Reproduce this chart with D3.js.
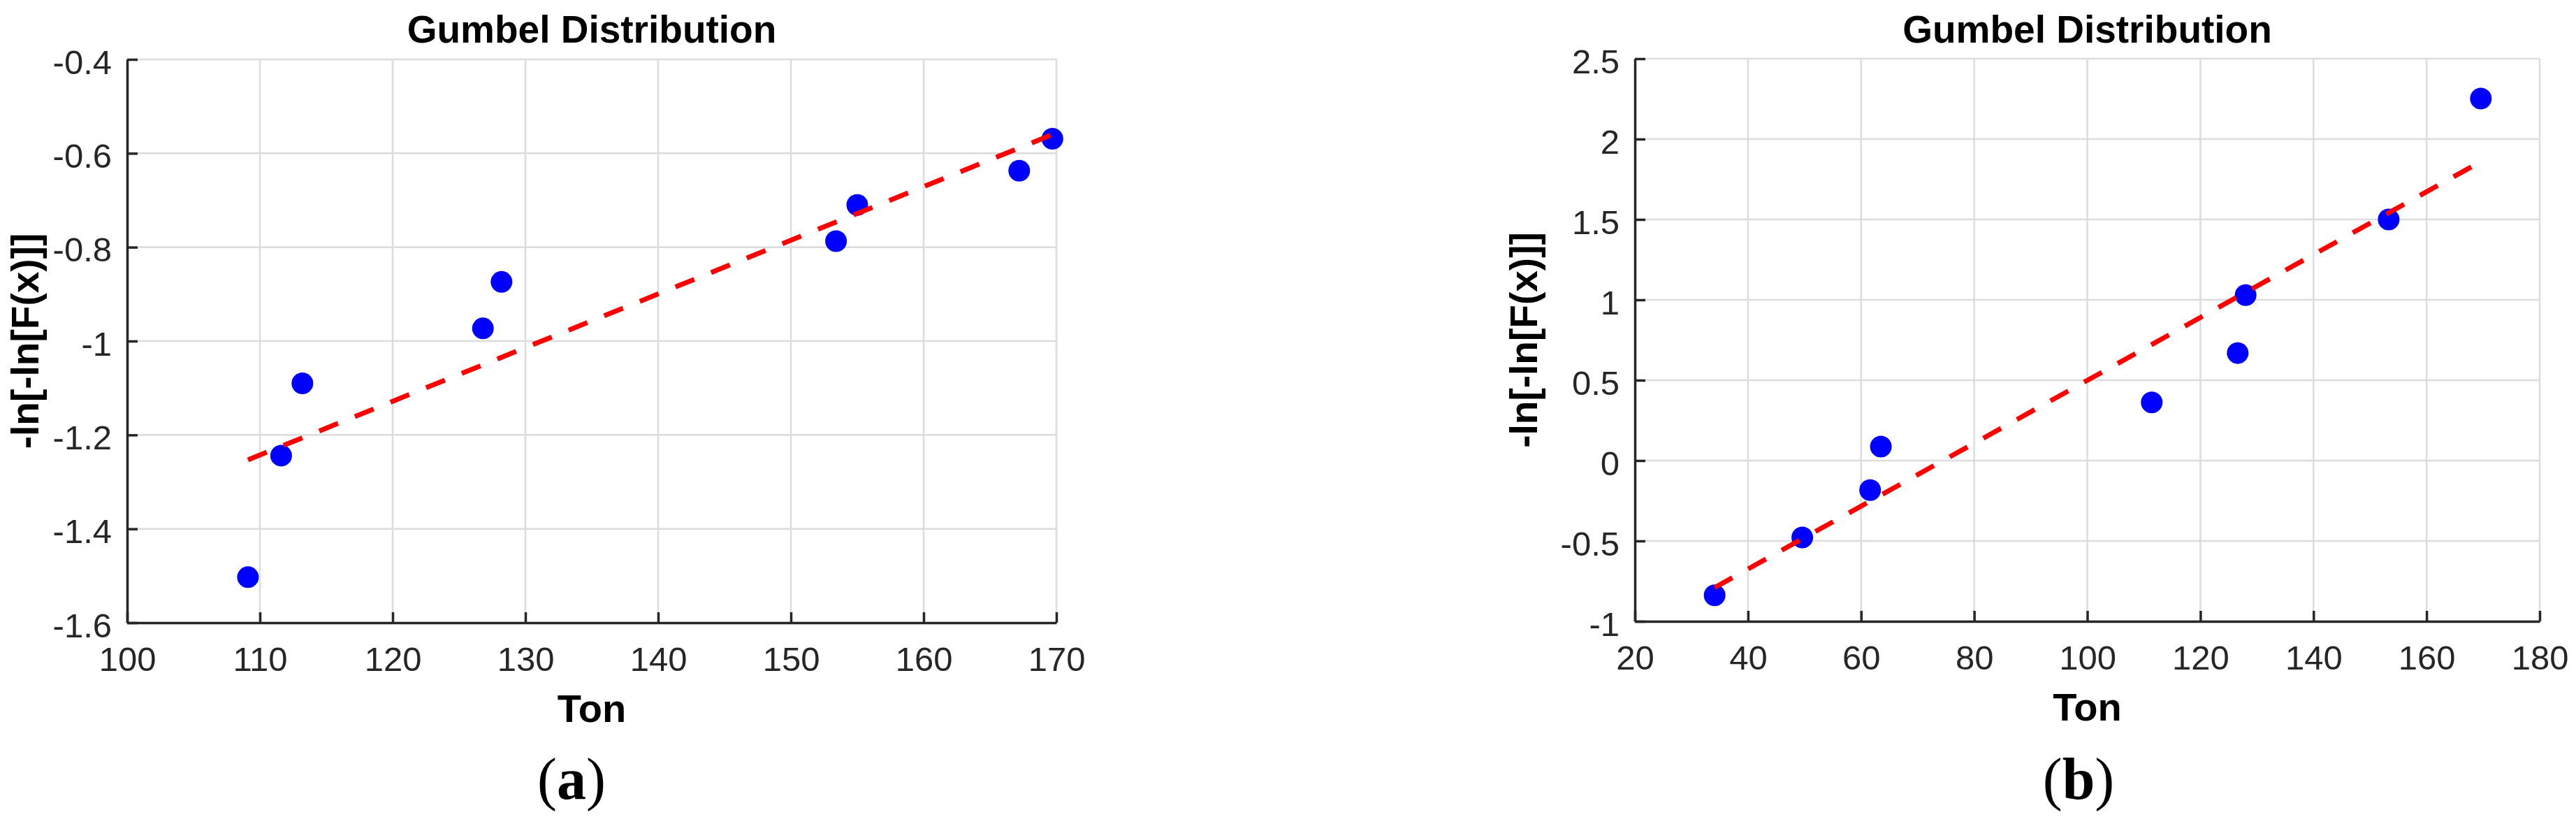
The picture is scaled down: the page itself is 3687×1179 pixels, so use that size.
<!DOCTYPE html>
<html>
<head>
<meta charset="utf-8">
<script src="https://cdn.jsdelivr.net/npm/d3@7"></script>
<style>
  html, body { margin: 0; padding: 0; background: #ffffff; }
  svg { display: block; }
</style>
</head>
<body>
<svg id="chart" width="3687" height="1179"></svg>
<script>
// ---------- DATA ----------
// Panel (a)
const tonA  = [109.1, 111.6, 113.2, 126.8, 128.2, 153.4, 155.0, 167.2, 169.7];
const gumA  = [-1.503, -1.244, -1.090, -0.973, -0.874, -0.787, -0.710, -0.637, -0.569];
const fitA  = [[109.1, -1.253], [169.7, -0.560]];
const xTicksA = [100, 110, 120, 130, 140, 150, 160, 170];
const yTicksA = [-1.6, -1.4, -1.2, -1, -0.8, -0.6, -0.4];

// Panel (b)
const tonB  = [34.1, 49.6, 61.6, 63.5, 111.4, 126.6, 128.0, 153.3, 169.6];
const gumB  = [-0.838, -0.478, -0.184, 0.087, 0.362, 0.669, 1.029, 1.500, 2.252];
const fitB  = [[34.1, -0.790], [169.6, 1.860]];
const xTicksB = [20, 40, 60, 80, 100, 120, 140, 160, 180];
const yTicksB = [-1, -0.5, 0, 0.5, 1, 1.5, 2, 2.5];

const titleText = "Gumbel Distribution";
const xLabelText = "Ton";
const yLabelText = "-ln[-ln[F(x)]]";
const panelLabels = ["a", "b"];

// ---------- DRAW ----------
const svg = d3.select("#chart");
const fmt = d => String(+(+d).toFixed(2));

function panel(cfg) {
  const g = svg.append("g");
  const x = d3.scaleLinear().domain(cfg.xDomain).range([cfg.left, cfg.right]);
  const y = d3.scaleLinear().domain(cfg.yDomain).range([cfg.bottom, cfg.top]);

  // grid
  g.append("g").selectAll("line").data(cfg.xTicks).join("line")
    .attr("x1", d => x(d)).attr("x2", d => x(d))
    .attr("y1", cfg.top).attr("y2", cfg.bottom)
    .attr("stroke", "#dcdcdc").attr("stroke-width", 2.5);
  g.append("g").selectAll("line").data(cfg.yTicks).join("line")
    .attr("x1", cfg.left).attr("x2", cfg.right)
    .attr("y1", d => y(d)).attr("y2", d => y(d))
    .attr("stroke", "#dcdcdc").attr("stroke-width", 2.5);

  // axes
  const xAxis = d3.axisBottom(x).tickValues(cfg.xTicks).tickFormat(fmt)
    .tickSizeInner(-15).tickSizeOuter(0).tickPadding(34);
  const yAxis = d3.axisLeft(y).tickValues(cfg.yTicks).tickFormat(fmt)
    .tickSizeInner(-15).tickSizeOuter(0).tickPadding(22);

  const gx = g.append("g").attr("transform", `translate(0,${cfg.bottom})`).call(xAxis);
  const gy = g.append("g").attr("transform", `translate(${cfg.left},0)`).call(yAxis);
  [gx, gy].forEach(a => {
    a.selectAll("path.domain").attr("stroke", "#262626").attr("stroke-width", 3.5);
    a.selectAll(".tick line").attr("stroke", "#262626").attr("stroke-width", 3.5);
    a.selectAll(".tick text")
      .attr("fill", "#262626")
      .style("font-family", "'Liberation Sans', Arial, sans-serif")
      .style("font-size", "49px");
  });
  gy.selectAll(".tick text").attr("dy", "0.41em");

  // points
  g.append("g").selectAll("circle").data(cfg.xs.map((v, i) => [v, cfg.ys[i]])).join("circle")
    .attr("cx", d => x(d[0])).attr("cy", d => y(d[1])).attr("r", 15.5)
    .attr("fill", "#0000ff");

  // fit line
  g.append("path").datum(cfg.fit)
    .attr("d", d3.line().x(d => x(d[0])).y(d => y(d[1])))
    .attr("fill", "none").attr("stroke", "#ff0000").attr("stroke-width", 7)
    .attr("stroke-dasharray", "29,26");

  const cx = (cfg.left + cfg.right) / 2;
  const cy = (cfg.top + cfg.bottom) / 2;

  // title
  g.append("text").attr("x", cx).attr("y", 61).attr("text-anchor", "middle")
    .style("font-family", "'Liberation Sans', Arial, sans-serif")
    .style("font-weight", "bold").style("font-size", "55px").attr("fill", "#000")
    .text(titleText);

  // x label
  g.append("text").attr("x", cx).attr("y", cfg.bottom + 142).attr("text-anchor", "middle")
    .style("font-family", "'Liberation Sans', Arial, sans-serif")
    .style("font-weight", "bold").style("font-size", "56px").attr("fill", "#000")
    .text(xLabelText);

  // y label
  g.append("text")
    .attr("transform", `translate(${cfg.left - cfg.yLabelOff},${cy}) rotate(-90)`)
    .attr("text-anchor", "middle")
    .style("font-family", "'Liberation Sans', Arial, sans-serif")
    .style("font-weight", "bold").style("font-size", "55px").attr("fill", "#000")
    .text(yLabelText);

  // panel label
  const pl = g.append("text").attr("x", cfg.panelX).attr("y", 1143).attr("text-anchor", "middle")
    .style("font-family", "'Liberation Serif', 'Times New Roman', serif")
    .style("font-size", "84px").attr("fill", "#000");
  pl.append("tspan").text("(");
  pl.append("tspan").style("font-weight", "bold").text(cfg.panel);
  pl.append("tspan").text(")");
}

panel({
  xDomain: [100, 170], yDomain: [-1.6, -0.4],
  left: 182, right: 1512, top: 85, bottom: 891,
  xTicks: xTicksA, yTicks: yTicksA,
  xs: tonA, ys: gumA, fit: fitA, yLabelOff: 127,
  panel: panelLabels[0], panelX: 818
});

panel({
  xDomain: [20, 180], yDomain: [-1, 2.5],
  left: 2340, right: 3635, top: 84, bottom: 889,
  xTicks: xTicksB, yTicks: yTicksB,
  xs: tonB, ys: gumB, fit: fitB, yLabelOff: 140,
  panel: panelLabels[1], panelX: 2975
});
</script>
</body>
</html>
